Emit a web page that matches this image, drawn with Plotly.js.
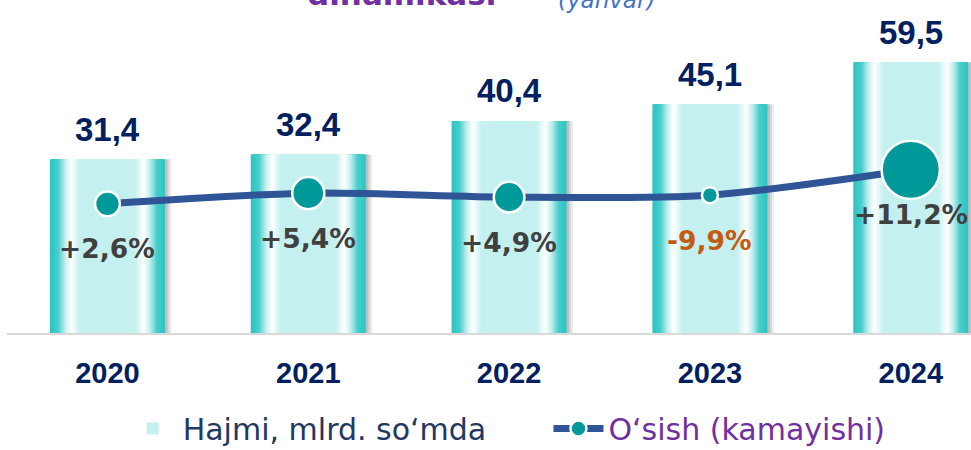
<!DOCTYPE html>
<html><head><meta charset="utf-8">
<script src="https://cdn.plot.ly/plotly-3.0.1.min.js"></script>
<style>html,body{margin:0;padding:0;background:#fff;}#chart{width:971px;height:450px;}</style>
</head><body><div id="chart"></div>
<script>
// ---- data ----
const years = ['2020', '2021', '2022', '2023', '2024'];
const hajmi = [31.4, 32.4, 40.4, 45.1, 59.5];          // Hajmi, mlrd. so'mda
const osish = [2.6, 5.4, 4.9, -9.9, 11.2];              // O'sish (kamayishi), %
const chiziqDarajasi = [19.4, 21.0, 20.4, 20.7, 24.5];  // level of the growth line on its hidden secondary axis
const barName = 'Hajmi, mlrd. so‘mda';
const lineName = 'O‘sish (kamayishi)';
const titleMain = 'dinamikasi';
const titleSub = '(yanvar)';

// ---- helpers ----
const PX = 964 / 4.8; // pixels per category on x
const fmt = v => v.toFixed(1).replace('.', ',');
const fmtPct = g => (g > 0 ? '+' : '') + g.toFixed(1).replace('.', ',') + '%';
const hex = c => [1, 3, 5].map(k => parseInt(c.substr(k, 2), 16));
const stops = [[0, '#C4F0EF'], [28, '#C4F0EF'], [37, '#FFFFFF'], [43, '#C2EFEE'], [50, '#48CECC'], [57.5, '#2CC5C3']];
function colAt(d) {
  for (let k = 1; k < stops.length; k++) {
    if (d <= stops[k][0]) {
      const [d0, c0] = stops[k - 1], [d1, c1] = stops[k];
      const t = (d - d0) / (d1 - d0), a = hex(c0), b = hex(c1);
      return 'rgb(' + a.map((v, j) => Math.round(v + (b[j] - v) * t)).join(',') + ')';
    }
  }
  return stops[stops.length - 1][1];
}

const traces = [];
// soft shadow on the right of the bars
[[-53.5, 64, 'rgba(0,0,0,0.07)'], [-52, 62, 'rgba(0,0,0,0.09)'], [-50, 60, 'rgba(0,0,0,0.11)']].forEach(([a, b, c]) => {
  traces.push({type: 'bar', x: years, y: hajmi, width: (b - a) / PX, offset: a / PX,
    marker: {color: c, line: {width: 0}}, showlegend: false, hoverinfo: 'skip'});
});
// horizontal gradient of the bars built from nested layers
const halfWidths = [];
for (let h = 57.5; h >= 27; h -= 1.25) halfWidths.push(h);
halfWidths.forEach((h, i) => {
  const last = i === halfWidths.length - 1;
  traces.push({type: 'bar', x: years, y: hajmi, width: 2 * h / PX, offset: -h / PX,
    marker: {color: colAt(h), line: {width: 0}},
    name: '<span style="color:#1F3864">' + barName + '</span>' + '\u00A0'.repeat(6),
    showlegend: last, hoverinfo: last ? 'x+y' : 'skip', legendrank: 1});
});
// growth line
const gMin = Math.min(...osish);
const sizes = osish.map(g => 16 + 0.0045 * Math.pow(g - gMin, 3));
traces.push({type: 'scatter', mode: 'lines+markers', x: years, y: chiziqDarajasi, yaxis: 'y2',
  name: '<span style="color:#7030A0">' + lineName + '</span>',
  line: {color: '#2F5597', width: 7, shape: 'spline', smoothing: 0.8},
  marker: {color: '#009999', opacity: 1, size: sizes, line: {color: '#FFFFFF', width: 2.5}},
  customdata: osish, hovertemplate: '%{x}: %{customdata}%<extra></extra>', legendrank: 2});

const annotations = [];
years.forEach((yr, i) => {
  annotations.push({x: i, y: Math.log10(hajmi[i]), xref: 'x', yref: 'y', text: fmt(hajmi[i]),
    showarrow: false, yanchor: 'middle', yshift: 30,
    font: {family: 'Liberation Sans, Arial, sans-serif', size: 33, color: '#002060', weight: 'bold'}});
  annotations.push({x: i, y: chiziqDarajasi[i], xref: 'x', yref: 'y2', text: fmtPct(osish[i]),
    showarrow: false, yanchor: 'middle', yshift: -45,
    font: {family: 'DejaVu Sans, sans-serif', size: 26.5, color: osish[i] < 0 ? '#C55A11' : '#404040', weight: 'bold'}});
});
annotations.push({xref: 'paper', yref: 'paper', x: (401 - 7) / 964, y: 0.958, text: titleMain,
  showarrow: false, xanchor: 'center', yanchor: 'bottom',
  font: {family: 'DejaVu Sans, sans-serif', size: 31, color: '#7030A0', weight: 'bold'}});
annotations.push({xref: 'paper', yref: 'paper', x: (606 - 7) / 964, y: 0.956, text: titleSub,
  showarrow: false, xanchor: 'center', yanchor: 'bottom',
  font: {family: 'DejaVu Sans, sans-serif', size: 23, color: '#4472C4', style: 'italic'}});

const layout = {
  width: 971, height: 450,
  margin: {l: 7, r: 0, t: 0, b: 117, pad: 0, autoexpand: false},
  paper_bgcolor: '#ffffff', plot_bgcolor: 'rgba(0,0,0,0)',
  barmode: 'overlay', separators: ', ',
  font: {family: 'Liberation Sans, Arial, sans-serif'},
  xaxis: {type: 'category', range: [-0.5, 4.3], showgrid: false, zeroline: false, automargin: false,
    showline: true, linecolor: '#D9D9D9', linewidth: 2, ticks: '', ticklabelstandoff: 13,
    tickfont: {family: 'Liberation Sans, Arial, sans-serif', size: 29, color: '#002060', weight: 'bold'},
    fixedrange: true},
  yaxis: {type: 'log', range: [1, 1.9523], visible: false, fixedrange: true},
  yaxis2: {overlaying: 'y', range: [0, 50], visible: false, fixedrange: true},
  showlegend: true,
  legend: {orientation: 'h', xref: 'paper', x: 0.12, yref: 'container', y: 0.048, xanchor: 'left', yanchor: 'middle',
    font: {family: 'DejaVu Sans, sans-serif', size: 30, color: '#1F3864'},
    itemwidth: 50, bgcolor: 'rgba(0,0,0,0)', traceorder: 'normal'},
  annotations: annotations
};
Plotly.newPlot('chart', traces, layout, {displayModeBar: false, responsive: false});
</script>
</body></html>
